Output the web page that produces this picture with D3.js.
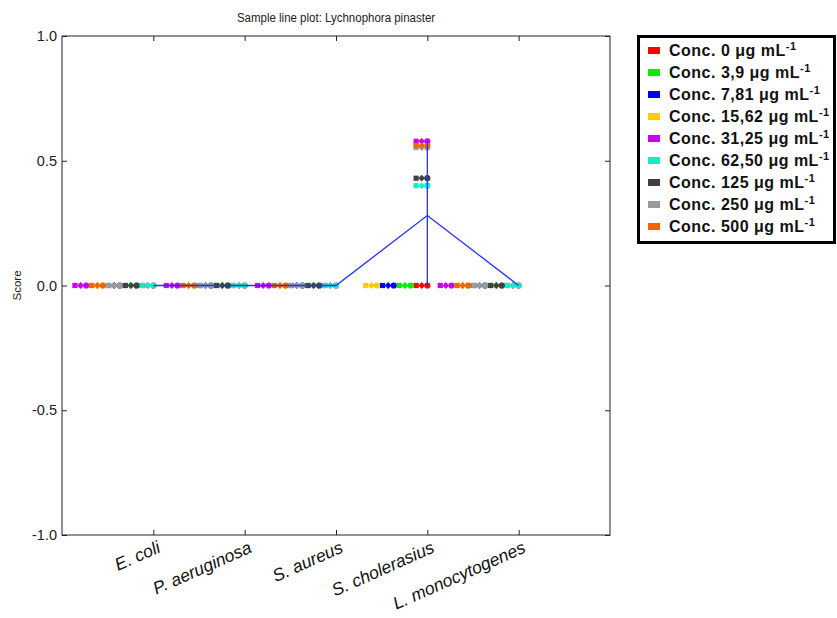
<!DOCTYPE html>
<html>
<head>
<meta charset="UTF-8">
<title>Sample line plot: Lychnophora pinaster</title>
<script src="https://d3js.org/d3.v7.min.js"></script>
<style>
    body { margin: 0; background: #fff; font-family: "Liberation Sans", Arial, sans-serif; }
    svg { display: block; }
</style>
</head>
<body>
<svg id="chart" width="837" height="618"></svg>
<script>
    // categorias (bactérias) e séries (concentrações)
    const categories = ["E. coli", "P. aeruginosa", "S. aureus", "S. cholerasius", "L. monocytogenes"];
    const concLabels = ["0", "3,9", "7,81", "15,62", "31,25", "62,50", "125", "250", "500"];
    const concColors = ["#ff0000", "#00ee00", "#0000ee", "#ffcc00", "#cc00ee", "#11eecc", "#404040", "#9a9a9a", "#ee6600"];

    // score de cada concentração por bactéria
    const conc0    = [0, 0, 0, 0, 0];
    const conc3_9  = [0, 0, 0, 0, 0];
    const conc7_81 = [0, 0, 0, 0, 0];
    const conc15_62 = [0, 0, 0, 0, 0];
    const conc31_25 = [0, 0, 0, 0.578, 0];
    const conc62_50 = [0, 0, 0, 0.40, 0];
    const conc125  = [0, 0, 0, 0.43, 0];
    const conc250  = [0, 0, 0, 0.553, 0];
    const conc500  = [0, 0, 0, 0.561, 0];
    const seriesValues = [conc0, conc3_9, conc7_81, conc15_62, conc31_25, conc62_50, conc125, conc250, conc500];

    const yTicks = [1.0, 0.5, 0.0, -0.5, -1.0];

    const svg = d3.select("#chart");
    const plot = {left: 62, right: 610, top: 36, bottom: 535};

    const x = d3.scaleLinear().domain([0, categories.length + 1]).range([plot.left, plot.right]);
    const y = d3.scaleLinear().domain([-1, 1]).range([plot.bottom, plot.top]);

    // título
    svg.append("text")
        .attr("x", (plot.left + plot.right) / 2).attr("y", 21)
        .attr("text-anchor", "middle")
        .attr("font-size", 12.5).attr("fill", "#222")
        .attr("transform", "translate(336,0) scale(0.92,1.05) translate(-336,0)")
        .text("Sample line plot: Lychnophora pinaster");

    // moldura
    svg.append("rect")
        .attr("x", plot.left).attr("y", plot.top)
        .attr("width", plot.right - plot.left).attr("height", plot.bottom - plot.top)
        .attr("fill", "none").attr("stroke", "#222").attr("stroke-width", 1);

    // eixo y
    const fmt = d => d3.format(".1f")(d).replace("−", "-");
    const yAxis = svg.append("g").attr("transform", `translate(${plot.left},0)`)
        .call(d3.axisLeft(y).tickValues(yTicks).tickFormat(fmt).tickSizeInner(-5).tickSizeOuter(0).tickPadding(5));
    yAxis.select(".domain").remove();
    yAxis.selectAll("text").attr("font-size", 14.5).attr("fill", "#222").attr("font-family", "Liberation Sans, Arial");
    yAxis.selectAll("line").attr("stroke", "#222");
    const yAxisR = svg.append("g").attr("transform", `translate(${plot.right},0)`)
        .call(d3.axisRight(y).tickValues(yTicks).tickSizeInner(-5).tickSizeOuter(0).tickFormat(""));
    yAxisR.select(".domain").remove();
    yAxisR.selectAll("line").attr("stroke", "#222");

    svg.append("text")
        .attr("transform", `translate(21,${y(0)}) rotate(-90)`)
        .attr("text-anchor", "middle")
        .attr("font-size", 11.5).attr("fill", "#222")
        .text("Score");

    // eixo x (ticks para dentro, em baixo e em cima)
    const catPos = categories.map((c, i) => x(i + 1));
    const xAxis = svg.append("g").attr("transform", `translate(0,${plot.bottom})`)
        .call(d3.axisBottom(x).tickValues(d3.range(1, categories.length + 1)).tickSizeInner(-5).tickSizeOuter(0).tickFormat(""));
    xAxis.select(".domain").remove();
    xAxis.selectAll("line").attr("stroke", "#222");
    const xAxisT = svg.append("g").attr("transform", `translate(0,${plot.top})`)
        .call(d3.axisTop(x).tickValues(d3.range(1, categories.length + 1)).tickSizeInner(-5).tickSizeOuter(0).tickFormat(""));
    xAxisT.select(".domain").remove();
    xAxisT.selectAll("line").attr("stroke", "#222");

    svg.append("g").selectAll("text").data(categories).join("text")
        .attr("transform", (d, i) => `translate(${catPos[i] + 3},${plot.bottom + 5}) rotate(-24)`)
        .attr("text-anchor", "end")
        .attr("dominant-baseline", "hanging")
        .attr("font-size", 17.5).attr("font-style", "italic").attr("fill", "#111")
        .text(d => d);

    // pontos: 3 réplicas (quadrado, losango, círculo); agrupados por valor e empilhados para a esquerda
    const step = 5.6;
    const points = [];
    categories.forEach((c, ci) => {
        const counts = new Map();
        seriesValues.forEach((vals, si) => {
            const v = vals[ci];
            const k = counts.get(v) || 0;
            counts.set(v, k + 1);
            const slot = k % 5;
            for (let r = 0; r < 3; r++) {
                points.push({ci, si, v, r, px: catPos[ci] - (slot * 3 + (2 - r)) * step});
            }
        });
    });

    const g = svg.append("g");
    points.forEach(p => {
        const cx = p.px, cy = y(p.v), col = concColors[p.si];
        if (p.r === 0) {
            g.append("rect").attr("x", cx - 2.6).attr("y", cy - 2.6).attr("width", 5.2).attr("height", 5.2).attr("fill", col);
        } else if (p.r === 1) {
            g.append("path").attr("d", `M${cx},${cy - 3.4}L${cx + 3.4},${cy}L${cx},${cy + 3.4}L${cx - 3.4},${cy}Z`).attr("fill", col);
        } else {
            g.append("circle").attr("cx", cx).attr("cy", cy).attr("r", 3.1).attr("fill", col);
        }
    });

    // média e intervalo (mín-máx) por bactéria
    const stats = categories.map((c, ci) => {
        const vals = seriesValues.map(s => s[ci]);
        return {ci, mean: d3.mean(vals), min: d3.min(vals), max: d3.max(vals)};
    });
    svg.append("g").selectAll("line").data(stats).join("line")
        .attr("x1", d => catPos[d.ci]).attr("x2", d => catPos[d.ci])
        .attr("y1", d => y(d.min)).attr("y2", d => y(d.max))
        .attr("stroke", "#2233ff").attr("stroke-width", 1.3);
    svg.append("path").datum(stats)
        .attr("fill", "none").attr("stroke", "#2233ff").attr("stroke-width", 1.3)
        .attr("d", d3.line().x(d => catPos[d.ci]).y(d => y(d.mean)));

    // legenda
    const lg = svg.append("g");
    lg.append("rect").attr("x", 638.5).attr("y", 36.5).attr("width", 196).attr("height", 206)
        .attr("fill", "#fff").attr("stroke", "#000").attr("stroke-width", 3);
    concLabels.forEach((lab, i) => {
        const yy = 50 + i * 22;
        lg.append("rect").attr("x", 648).attr("y", yy - 3).attr("width", 12).attr("height", 7).attr("fill", concColors[i]);
        const t = lg.append("text").attr("x", 669).attr("y", yy + 6)
            .attr("font-size", 16).attr("font-weight", "bold").attr("fill", "#111").attr("letter-spacing", 0.5);
        t.append("tspan").text(`Conc. ${lab} μg mL`);
        t.append("tspan").attr("font-size", 11).attr("dy", -6).text("-1");
    });
</script>
</body>
</html>
